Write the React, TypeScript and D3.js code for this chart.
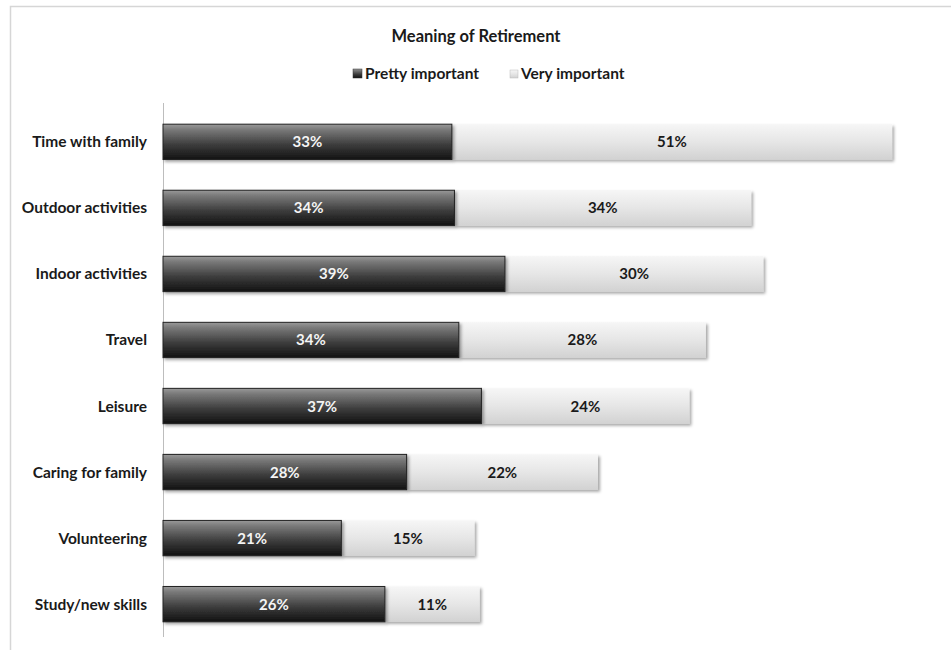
import React from "react";
import * as d3 from "d3";

const categories = ["Time with family", "Outdoor activities", "Indoor activities", "Travel", "Leisure", "Caring for family", "Volunteering", "Study/new skills"];
const prettyImportant = [33.2, 33.5, 39.3, 34.0, 36.6, 28.0, 20.5, 25.5];
const veryImportant = [50.6, 34.1, 29.7, 28.4, 23.9, 22.0, 15.3, 10.9];
const seriesNames = ["Pretty important", "Very important"];

const W = 951, H = 650;
const FONT = "Lato, 'Open Sans', sans-serif";

export default function App() {
  const x = d3.scaleLinear().domain([0, 100]).range([163, 1033]);
  const y = d3.scaleBand().domain(categories).range([109, 637]).paddingInner(0.465).paddingOuter(0.23);
  const bh = y.bandwidth();
  return (
    <svg width={W} height={H} style={{ position: "absolute", left: 0, top: 0 }}>
      <defs>
        <linearGradient id="dark" x1="0" y1="0" x2="0" y2="1">
          <stop offset="0" stopColor="#9a9a9a" />
          <stop offset="0.15" stopColor="#7a7a7a" />
          <stop offset="0.6" stopColor="#3a3a3a" />
          <stop offset="1" stopColor="#121212" />
        </linearGradient>
        <linearGradient id="light" x1="0" y1="0" x2="0" y2="1">
          <stop offset="0" stopColor="#f6f6f6" />
          <stop offset="0.5" stopColor="#e6e6e6" />
          <stop offset="1" stopColor="#d2d2d2" />
        </linearGradient>
        <filter id="sh" x="-5%" y="-20%" width="110%" height="160%">
          <feDropShadow dx="2" dy="2" stdDeviation="1.5" floodColor="#000" floodOpacity="0.35" />
        </filter>
      </defs>
      <rect x={0} y={0} width={W} height={H} fill="#fff" />
      <path d={`M10.5,${H} V6.5 H${W}`} fill="none" stroke="#d6d6d6" strokeWidth={1.5} />
      <text x={476} y={42} textAnchor="middle" fontFamily={FONT} fontWeight="bold" fontSize={16.5} fill="#1a1a1a">Meaning of Retirement</text>
      <g fontFamily={FONT} fontWeight="bold" fontSize={15.5} fill="#1a1a1a">
        <rect x={353} y={69} width={9} height={9} fill="url(#dark)" stroke="#333" strokeWidth={0.5} />
        <text x={365} y={79}>{seriesNames[0]}</text>
        <rect x={510} y={70} width={8} height={8} fill="url(#light)" stroke="#bbb" strokeWidth={0.5} />
        <text x={521} y={79}>{seriesNames[1]}</text>
      </g>
      <line x1={163.5} x2={163.5} y1={103} y2={637} stroke="#bdbdbd" strokeWidth={1} />
      {categories.map((c, i) => {
        const y0 = y(c)!;
        const xa = x(0), xb = x(prettyImportant[i]), xc = x(prettyImportant[i] + veryImportant[i]);
        return (
          <g key={c}>
            <text x={147} y={y0 + bh / 2 + 5.5} textAnchor="end" fontFamily={FONT} fontWeight="bold" fontSize={15.5} fill="#1a1a1a">{c}</text>
            <rect x={xb} y={y0} width={xc - xb} height={bh} fill="url(#light)" filter="url(#sh)" />
            <rect x={xa} y={y0} width={xb - xa} height={bh} fill="url(#dark)" stroke="#222" strokeWidth={1} filter="url(#sh)" />
            <text x={(xa + xb) / 2} y={y0 + bh / 2 + 5.5} textAnchor="middle" fontFamily={FONT} fontWeight="bold" fontSize={15} fill="#f4f4f4">{Math.round(prettyImportant[i])}%</text>
            <text x={(xb + xc) / 2} y={y0 + bh / 2 + 5.5} textAnchor="middle" fontFamily={FONT} fontWeight="bold" fontSize={15} fill="#1a1a1a">{Math.round(veryImportant[i])}%</text>
          </g>
        );
      })}
    </svg>
  );
}
